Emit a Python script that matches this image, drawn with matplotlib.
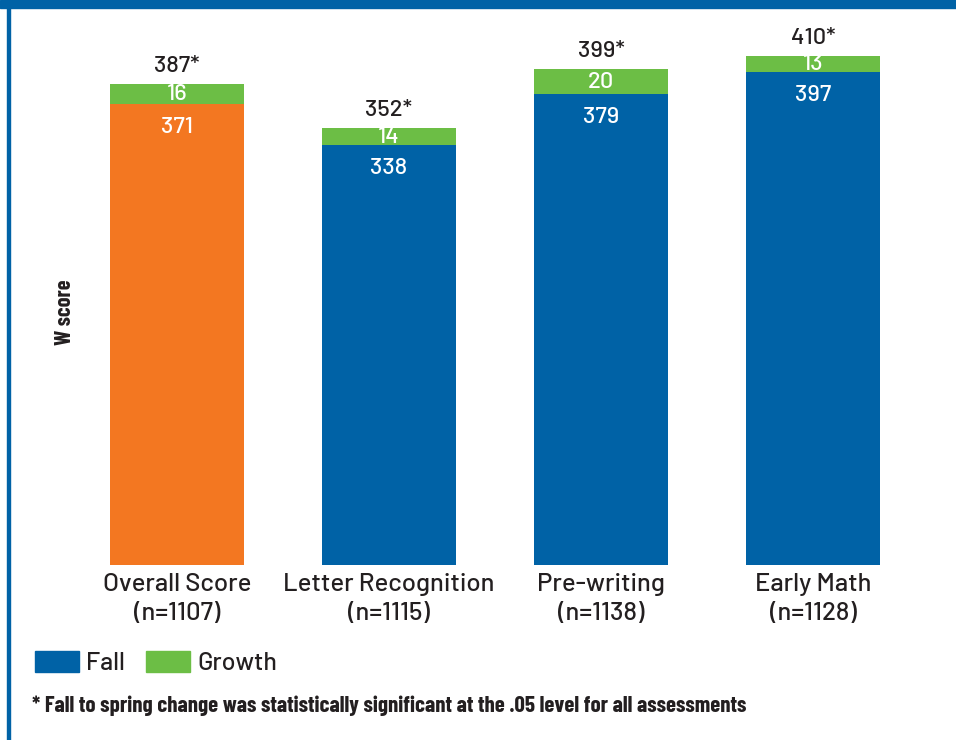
import matplotlib
matplotlib.use("Agg")
import matplotlib.pyplot as plt
from matplotlib.patches import Patch, Rectangle
import numpy as np

# data
categories = ["Overall Score\n(n=1107)", "Letter Recognition\n(n=1115)",
              "Pre-writing\n(n=1138)", "Early Math\n(n=1128)"]
fall = [371, 338, 379, 397]
growth = [16, 14, 20, 13]
totals = [387, 352, 399, 410]

BLUE = "#0062a6"
ORANGE = "#f37721"
GREEN = "#6cbe45"
DARK = "#231f20"

# DIN-like look; fall back to the standard families if these are missing
plt.rcParams["font.family"] = ["Barlow", "Roboto", "DejaVu Sans"]
COND = ["Barlow Condensed", "Roboto Condensed", "Liberation Sans Narrow", "DejaVu Sans"]

W, H = 956, 740
fig = plt.figure(figsize=(W / 100, H / 100), dpi=100)

# axes placed in pixel terms: bars centred at 177, 389, 601, 813 px, baseline at y=565
ax = fig.add_axes([71 / W, (H - 565) / H, 848 / W, 545 / H])
x = np.arange(len(categories))
fall_colors = [ORANGE, BLUE, BLUE, BLUE]
ax.bar(x, fall, width=0.632, color=fall_colors)
ax.bar(x, growth, bottom=fall, width=0.632, color=GREEN)
ax.set_xlim(-0.5, 3.5)
ax.set_ylim(0, 545 / 1.242)

for i in range(len(x)):
    # fall value near the top of the fall bar
    ax.annotate(str(fall[i]), (x[i], fall[i]), xytext=(0, -23), textcoords="offset pixels",
                ha="center", va="center", color="white", fontsize=17, fontweight="medium")
    # growth value in the green segment
    ax.annotate(str(growth[i]), (x[i], fall[i] + growth[i] / 2), xytext=(0, 0),
                textcoords="offset pixels", ha="center", va="center",
                color="white", fontsize=17, fontweight="medium")
    ax.annotate(f"{totals[i]}*", (x[i], totals[i]), xytext=(0, 8), textcoords="offset pixels",
                ha="center", va="bottom", color=DARK, fontsize=17, fontweight="medium")

ax.set_xticks(x)
ax.set_xticklabels(categories, fontsize=18.5, color=DARK, linespacing=1.3,
                   fontweight="medium")
ax.tick_params(axis="x", length=0, pad=6)
ax.set_yticks([])
for s in ax.spines.values():
    s.set_visible(False)

fig.text(65 / W, 1 - 312 / H, "W score", rotation=90, ha="center", va="center",
         fontsize=16, fontweight="bold", color=DARK, family=COND)

handles = [Patch(color=BLUE, label="Fall"), Patch(color=GREEN, label="Growth")]
leg = fig.legend(handles=handles, loc="center left", bbox_to_anchor=(35 / W, 1 - 663 / H),
                 ncol=2, frameon=False, fontsize=18, handlelength=1.75, handleheight=0.95,
                 handletextpad=0.3, columnspacing=0.85, borderpad=0, borderaxespad=0,
                 labelcolor=DARK)
for t in leg.get_texts():
    t.set_fontweight("medium")

fig.text(32 / W, 1 - 706 / H,
         "* Fall to spring change was statistically significant at the .05 level for all assessments",
         ha="left", va="center", fontsize=16.5, fontweight="bold", color=DARK, family=COND)

# blue frame: band on top, thin line on the left
fig.patches.append(Rectangle((0, 1 - 8 / H), 1, 8 / H, transform=fig.transFigure,
                             color=BLUE, zorder=0))
fig.patches.append(Rectangle((7 / W, 0), 3 / W, 1, transform=fig.transFigure,
                             color=BLUE, zorder=0))

fig.savefig("out.png", dpi=100)
